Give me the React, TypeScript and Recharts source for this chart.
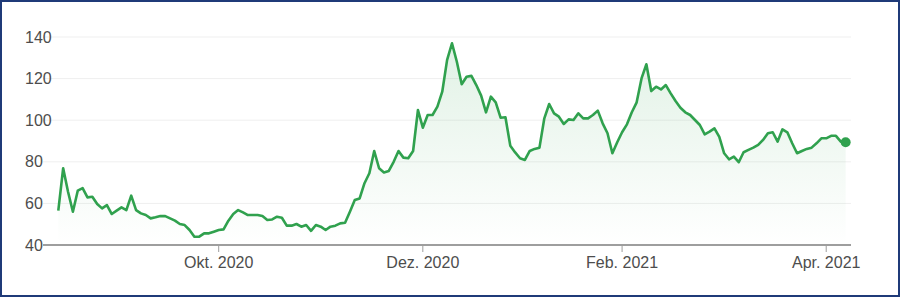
import { ComposedChart, Area, Line, XAxis, YAxis, CartesianGrid } from "recharts";

// daily closing prices, mid Aug 2020 to early Apr 2021
const prices = [
  56.5, 76.9, 65.6, 56.0, 66.1, 67.3, 62.9, 63.2, 59.7, 57.6,
  59.2, 54.9, 56.5, 58.1, 56.8, 63.7, 56.8, 55.2, 54.4, 52.8,
  53.3, 53.9, 53.9, 52.8, 51.7, 50.1, 49.6, 47.2, 44.0, 44.0,
  45.6, 45.6, 46.4, 47.2, 47.5, 51.7, 54.9, 56.8, 55.7, 54.4,
  54.4, 54.4, 53.9, 52.0, 52.3, 53.6, 53.1, 49.3, 49.3, 50.1,
  48.8, 49.6, 46.8, 49.6, 48.8, 47.2, 48.8, 49.3, 50.4, 50.7,
  56.0, 61.6, 62.4, 69.7, 74.5, 85.2, 76.9, 74.9, 75.6, 80.0,
  85.2, 82.0, 81.7, 85.2, 104.9, 96.4, 102.5, 102.5, 106.5, 113.7,
  129.0, 137.0, 128.1, 117.3, 120.9, 121.3, 116.9, 111.8, 103.8, 111.3,
  108.6, 101.2, 101.4, 87.7, 84.5, 81.7, 80.9, 85.2, 86.2, 86.8,
  100.9, 107.8, 103.3, 101.7, 98.2, 100.4, 100.1, 103.3, 100.9, 100.9,
  102.5, 104.6, 98.5, 93.7, 84.1, 89.4, 94.2, 98.0, 103.8, 108.6,
  120.1, 126.9, 114.0, 116.1, 114.8, 116.9, 112.9, 109.2, 106.0, 103.8,
  102.5, 100.1, 97.7, 93.2, 94.5, 96.1, 92.0, 84.1, 81.2, 82.5,
  79.8, 84.6, 85.7, 86.8, 88.1, 90.5, 93.7, 94.2, 89.7, 95.6,
  94.2, 88.9, 84.1, 85.2, 86.2, 86.8, 88.9, 91.3, 91.3, 92.5,
  92.5, 89.7, 89.4,
];

// first trading day of each labelled month (index into prices)
const monthTickIdx = [33, 75, 116, 158];
const monthTickLabels = ["Okt. 2020", "Dez. 2020", "Feb. 2021", "Apr. 2021"];

const yTicks = [40, 60, 80, 100, 120, 140];

const GREEN = "#30a14e";
const FONT = "'Liberation Sans', Arial, sans-serif";

const data = prices.map((v, i) => ({ i, v }));

function YTick(props: any) {
  const { y, payload } = props;
  return (
    <text x={25} y={y} dy={5.5} fill="#4d4d4d" fontSize={16} fontFamily={FONT} textAnchor="start">
      {payload.value}
    </text>
  );
}

function LastDot(props: any) {
  const { cx, cy, index } = props;
  if (index !== prices.length - 1) return <g key={index} />;
  return <circle key={index} cx={cx} cy={cy} r={5} fill={GREEN} />;
}

export default function App() {
  return (
    <div style={{ position: "fixed", left: 0, top: 0, width: 900, height: 297, background: "#fff" }}>
      <ComposedChart
        width={900}
        height={297}
        data={data}
        margin={{ top: 37, right: 49, left: 0, bottom: 22 }}
      >
        <defs>
          <linearGradient id="priceFill" x1="0" y1="0" x2="0" y2="1">
            <stop offset="0%" stopColor={GREEN} stopOpacity={0.24} />
            <stop offset="100%" stopColor={GREEN} stopOpacity={0} />
          </linearGradient>
        </defs>
        <CartesianGrid vertical={false} stroke="#efefef" strokeWidth={1} />
        <XAxis
          dataKey="i"
          type="number"
          domain={[-3.15, 163.1]}
          ticks={monthTickIdx}
          tickFormatter={(v: number) => monthTickLabels[monthTickIdx.indexOf(v)] ?? ""}
          axisLine={{ stroke: "#9e9e9e", strokeWidth: 2 }}
          tickLine={{ stroke: "#9e9e9e", strokeWidth: 1 }}
          tickSize={7}
          tickMargin={5}
          tick={{ fill: "#4d4d4d", fontSize: 16, fontFamily: FONT }}
          height={30}
          allowDataOverflow
        />
        <YAxis
          domain={[40, 140]}
          ticks={yTicks}
          axisLine={false}
          tickLine={false}
          width={43}
          tick={<YTick />}
          allowDataOverflow
        />
        <Area
          type="linear"
          dataKey="v"
          stroke="none"
          fill="url(#priceFill)"
          isAnimationActive={false}
        />
        <Line
          type="linear"
          dataKey="v"
          stroke={GREEN}
          strokeWidth={2.6}
          strokeLinejoin="round"
          dot={<LastDot />}
          activeDot={false}
          isAnimationActive={false}
        />
      </ComposedChart>
      <div
        style={{
          position: "absolute",
          inset: 0,
          border: "2px solid #1f3a78",
          pointerEvents: "none",
        }}
      />
    </div>
  );
}
